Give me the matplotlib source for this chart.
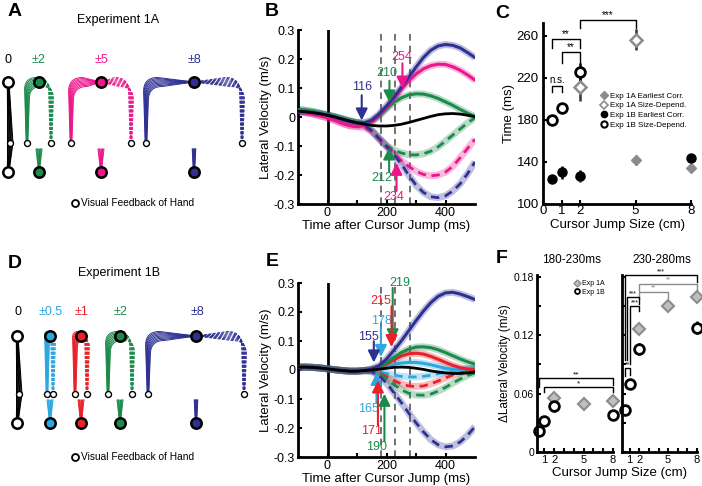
import numpy as np
import matplotlib.pyplot as plt
from matplotlib.lines import Line2D

plt.rcParams['font.family'] = ['Liberation Sans', 'DejaVu Sans']
plt.rcParams['axes.unicode_minus'] = False

# ---- data ----
# lateral velocity traces, sampled every 25 ms from -100 to 500 ms
t_ms = [-100, -75, -50, -25, 0, 25, 50, 75, 100, 125, 150, 175, 200,
        225, 250, 275, 300, 325, 350, 375, 400, 425, 450, 475, 500]

# Experiment 1A (panel B)
b_black = [0.020, 0.018, 0.015, 0.011, 0.006, 0.000, -0.007, -0.014, -0.020, -0.025, -0.029, -0.031, -0.031,
           -0.029, -0.025, -0.019, -0.012, -0.005, 0.002, 0.008, 0.011, 0.012, 0.010, 0.006, 0.001]
b_green_pos = [0.026, 0.023, 0.019, 0.013, 0.007, 0.001, -0.006, -0.013, -0.019, -0.021, -0.016, 0.004, 0.028,
               0.050, 0.066, 0.076, 0.080, 0.079, 0.073, 0.064, 0.052, 0.040, 0.026, 0.013, 0.002]
b_green_neg = [0.026, 0.023, 0.019, 0.013, 0.007, 0.001, -0.006, -0.013, -0.019, -0.026, -0.045, -0.073, -0.098,
               -0.114, -0.124, -0.130, -0.131, -0.127, -0.118, -0.103, -0.083, -0.062, -0.041, -0.020, -0.003]
b_pink_pos = [0.018, 0.015, 0.010, 0.004, -0.003, -0.012, -0.022, -0.030, -0.033, -0.029, -0.016, 0.006, 0.032,
              0.062, 0.095, 0.124, 0.148, 0.166, 0.177, 0.182, 0.181, 0.173, 0.161, 0.145, 0.127]
b_pink_neg = [0.018, 0.015, 0.010, 0.004, -0.003, -0.012, -0.022, -0.030, -0.033, -0.036, -0.050, -0.075, -0.100,
              -0.125, -0.150, -0.170, -0.187, -0.198, -0.203, -0.200, -0.190, -0.170, -0.140, -0.108, -0.077]
b_blue_pos = [0.020, 0.018, 0.015, 0.011, 0.006, 0.000, -0.008, -0.015, -0.020, -0.020, -0.011, 0.010, 0.038,
              0.068, 0.102, 0.137, 0.172, 0.205, 0.230, 0.245, 0.250, 0.247, 0.238, 0.222, 0.205]
b_blue_neg = [0.020, 0.018, 0.015, 0.011, 0.006, 0.000, -0.008, -0.015, -0.020, -0.028, -0.048, -0.075, -0.102,
              -0.130, -0.162, -0.200, -0.235, -0.260, -0.275, -0.278, -0.272, -0.255, -0.230, -0.195, -0.155]

# Experiment 1B (panel E)
e_pre = [0.010, 0.010, 0.009, 0.007, 0.004, 0.001, -0.002, -0.004, -0.004, -0.002]
e_black = e_pre + [0.000, 0.003, 0.006, 0.009, 0.010, 0.009, 0.006, 0.002, -0.003, -0.007, -0.010, -0.012, -0.012, -0.010, -0.007]
e_cyan_pos = e_pre + [0.001, 0.005, 0.012, 0.019, 0.024, 0.026, 0.026, 0.023, 0.018, 0.012, 0.006, 0.002, 0.001, 0.003, 0.008]
e_cyan_neg = e_pre + [-0.002, -0.007, -0.012, -0.018, -0.022, -0.024, -0.024, -0.022, -0.018, -0.013, -0.008, -0.003, 0.001, 0.004, 0.006]
e_red_pos = e_pre + [0.002, 0.008, 0.020, 0.035, 0.048, 0.056, 0.058, 0.055, 0.047, 0.037, 0.026, 0.016, 0.008, 0.003, 0.000]
e_red_neg = e_pre + [-0.003, -0.010, -0.022, -0.036, -0.048, -0.055, -0.057, -0.055, -0.048, -0.038, -0.027, -0.017, -0.009, -0.003, 0.000]
e_green_pos = e_pre + [0.002, 0.010, 0.025, 0.043, 0.060, 0.072, 0.079, 0.080, 0.077, 0.070, 0.060, 0.049, 0.038, 0.028, 0.020]
e_green_neg = e_pre + [-0.004, -0.014, -0.030, -0.050, -0.068, -0.080, -0.086, -0.087, -0.083, -0.073, -0.060, -0.045, -0.031, -0.019, -0.010]
e_blue_pos = e_pre + [0.004, 0.015, 0.038, 0.068, 0.100, 0.135, 0.170, 0.203, 0.232, 0.254, 0.266, 0.268, 0.262, 0.253, 0.243]
e_blue_neg = e_pre + [-0.005, -0.020, -0.045, -0.078, -0.112, -0.148, -0.182, -0.213, -0.240, -0.258, -0.265, -0.262, -0.248, -0.225, -0.195]

# panel C: correction times (ms)
c_1a_early_x = [2, 5, 8]
c_1a_early_y = [126, 142, 134]
c_1a_early_e = [5, 5, 4]
c_1a_size_x = [2, 5]
c_1a_size_y = [211, 256]
c_1a_size_e = [13, 10]
c_1b_early_x = [0.5, 1, 2, 8]
c_1b_early_y = [124, 130, 127, 144]
c_1b_early_e = [3, 6, 5, 3]
c_1b_size_x = [0.5, 1, 2]
c_1b_size_y = [180, 191, 225]
c_1b_size_e = [4, 5, 9]

# panel F: change in lateral velocity (m/s)
f_1a_x = [2, 5, 8]
f_1b_x = [0.5, 1, 2, 8]
f_early_1a = [0.056, 0.049, 0.052]
f_early_1a_e = [0.004, 0.004, 0.004]
f_early_1b = [0.022, 0.032, 0.047, 0.038]
f_early_1b_e = [0.003, 0.003, 0.006, 0.004]
f_late_1a = [0.126, 0.150, 0.159]
f_late_1a_e = [0.004, 0.004, 0.003]
f_late_1b = [0.0435, 0.070, 0.106, 0.128]
f_late_1b_e = [0.003, 0.004, 0.006, 0.007]

# trajectory panels
a_jumps = [0, 2, 5, 8]
a_labels = ['0', '±2', '±5', '±8']
d_jumps = [0, 0.5, 1, 2, 8]
d_labels = ['0', '±0.5', '±1', '±2', '±8']

GREEN = '#1b8a4b'
PINK = '#ec168c'
BLUE = '#2e3192'
RED = '#e8212a'
CYAN = '#2aa8df'
GRAY = '0.55'

W, H = 702, 486
fig = plt.figure(figsize=(W / 100, H / 100), dpi=100)


def fx(px):
    return px / W


def fy(py):
    return 1 - py / H


# ---- panels A and D: hand/cursor paths, drawn in pixel units ----
ax0 = fig.add_axes([0, 0, 1, 1])
ax0.set_xlim(0, W)
ax0.set_ylim(H, 0)
ax0.axis('off')

# fixed fan of trial offsets for the bundles of paths
spread = [-1.0, -0.75, -0.5, -0.25, 0.0, 0.25, 0.5, 0.75, 1.0]


def quad(p0, p1, p2, n=16):
    s = np.linspace(0, 1, n)[:, None]
    return (1 - s) ** 2 * p0 + 2 * (1 - s) * s * p1 + s ** 2 * p2


def draw_condition(ax, cx, jump, color, ytop, yjump, ybot, scale=6.0):
    if jump == 0:
        for k in spread:
            ax.plot([cx + k * 1.0, cx + k * 3.0 + 2, cx + k * 1.0], [ybot, yjump, ytop], color=color, lw=0.7)
        ax.plot(cx + 2, yjump, 'o', ms=4.3, mfc='white', mec='k', mew=1, zorder=5)
        face = 'white'
    else:
        d = jump * scale
        fan = 2.0 if jump < 8 else 1.2
        for k in spread:
            ax.plot([cx + k * 0.8, cx + k * fan * 1.5], [ybot - 4, yjump + 6], color=color, lw=0.7)
        for sgn, ls in [(-1, '-'), (1, (0, (3, 1.5)))]:
            x0 = cx + sgn * d
            r = min(14, d)
            for k in spread:
                xs = x0 + k * 2.4
                yh = ytop + k * 4.5
                corner = quad(np.array([xs, yh + r]), np.array([xs, yh]), np.array([xs - sgn * r, yh]))
                px = np.r_[x0 + k * 0.8, corner[:, 0], cx]
                py = np.r_[yjump, corner[:, 1], ytop]
                ax.plot(px, py, color=color, lw=0.7, ls=ls)
            ax.plot(x0, yjump, 'o', ms=4.3, mfc='white', mec='k', mew=1, zorder=5)
        face = color
    ax.plot([cx, cx], [ytop, ybot], ls='none', marker='o', ms=7.5, mfc=face, mec='k', mew=1.8, zorder=6)


a_centers = [8, 39, 101, 194]
a_colors = ['k', GREEN, PINK, BLUE]
for cx, j, lab, col in zip(a_centers, a_jumps, a_labels, a_colors):
    draw_condition(ax0, cx, j, col, 82, 143, 172)
    ax0.text(cx, 60, lab, color=col, ha='center', va='center', fontsize=9)

d_centers = [17, 50, 81, 120, 196]
d_colors = ['k', CYAN, RED, GREEN, BLUE]
for cx, j, lab, col in zip(d_centers, d_jumps, d_labels, d_colors):
    draw_condition(ax0, cx, j, col, 336, 394, 423)
    ax0.text(cx + 1, 312, lab, color=col, ha='center', va='center', fontsize=9)

for yy in [203, 457]:
    ax0.plot(75, yy, 'o', ms=5, mfc='white', mec='k', mew=1.3)
    ax0.text(81, yy, 'Visual Feedback of Hand', fontsize=7.3, va='center')

fig.text(fx(118), fy(20), 'Experiment 1A', fontsize=9, ha='center', va='center')
fig.text(fx(119), fy(273), 'Experiment 1B', fontsize=9, ha='center', va='center')


# ---- panels B and E: velocity traces ----
def vel_axes(top):
    ax = fig.add_axes([fx(298), fy(top + 174), 177 / W, 174 / H])
    ax.set_xlim(-100, 500)
    ax.set_ylim(-0.3, 0.3)
    for s in ['top', 'right']:
        ax.spines[s].set_visible(False)
    for s in ['left', 'bottom']:
        ax.spines[s].set_linewidth(2)
    ax.set_xticks([0, 200, 400])
    ax.set_xticks([100, 300], minor=True)
    ax.set_yticks([-0.3, -0.2, -0.1, 0, 0.1, 0.2, 0.3])
    ax.set_yticklabels(['-0.3', '-0.2', '-0.1', '0', '0.1', '0.2', '0.3'])
    ax.tick_params(direction='in', length=3, width=1.5, labelsize=9, pad=2)
    ax.tick_params(which='minor', direction='in', length=3, width=1.5)
    ax.axvline(0, color='k', lw=2)
    for tt in [180, 230, 280]:
        ax.axvline(tt, color='0.35', lw=1.2, ls=(0, (4, 3)), zorder=1)
    ax.set_xlabel('Time after Cursor Jump (ms)', fontsize=9.5, labelpad=1)
    ax.set_ylabel('Lateral Velocity (m/s)', fontsize=9.5, labelpad=1)
    return ax


def draw_vel(ax, y, color, dashed):
    ax.plot(t_ms, y, color=color, lw=5, alpha=0.3, solid_capstyle='butt', zorder=2)
    if dashed:
        ax.plot(t_ms, y, color=color, lw=2, ls=(0, (3, 2)), zorder=3)
    else:
        ax.plot(t_ms, y, color=color, lw=2.2, zorder=3)


def arrow(ax, x, y0, y1, color):
    ax.annotate('', xy=(x, y1), xytext=(x, y0),
                arrowprops=dict(arrowstyle='-|>,head_width=0.35,head_length=0.7', color=color, lw=1.5,
                                shrinkA=0, shrinkB=0), zorder=6)


axB = vel_axes(30)
for y, col in [(b_green_neg, GREEN), (b_pink_neg, PINK), (b_blue_neg, BLUE)]:
    draw_vel(axB, y, col, True)
for y, col in [(b_green_pos, GREEN), (b_pink_pos, PINK), (b_blue_pos, BLUE)]:
    draw_vel(axB, y, col, False)
axB.plot(t_ms, b_black, color='k', lw=2, zorder=4)

arrow(axB, 116, 0.075, -0.012, BLUE)
axB.text(116, 0.102, '116', color=BLUE, fontsize=9, ha='center', va='center')
arrow(axB, 210, 0.125, 0.05, GREEN)
axB.text(200, 0.153, '210', color=GREEN, fontsize=9, ha='center', va='center')
arrow(axB, 254, 0.185, 0.098, PINK)
axB.text(251, 0.208, '254', color=PINK, fontsize=9, ha='center', va='center')
arrow(axB, 209, -0.19, -0.105, GREEN)
axB.text(183, -0.211, '212', color=GREEN, fontsize=9, ha='center', va='center')
arrow(axB, 234, -0.255, -0.158, PINK)
axB.text(226, -0.277, '234', color=PINK, fontsize=9, ha='center', va='center')

axE = vel_axes(283)
for y, col in [(e_cyan_neg, CYAN), (e_red_neg, RED), (e_green_neg, GREEN), (e_blue_neg, BLUE)]:
    draw_vel(axE, y, col, True)
for y, col in [(e_cyan_pos, CYAN), (e_red_pos, RED), (e_green_pos, GREEN), (e_blue_pos, BLUE)]:
    draw_vel(axE, y, col, False)
axE.plot(t_ms, e_black, color='k', lw=2, zorder=4)

arrow(axE, 221, 0.283, 0.099, GREEN)
axE.text(246, 0.300, '219', color=GREEN, fontsize=9, ha='center', va='center')
arrow(axE, 217, 0.22, 0.079, RED)
axE.text(179, 0.237, '215', color=RED, fontsize=9, ha='center', va='center')
arrow(axE, 181, 0.148, 0.045, CYAN)
axE.text(183, 0.168, '178', color=CYAN, fontsize=9, ha='center', va='center')
arrow(axE, 157, 0.099, 0.026, BLUE)
axE.text(139, 0.114, '155', color=BLUE, fontsize=9, ha='center', va='center')
arrow(axE, 166, -0.114, -0.01, CYAN)
axE.text(139, -0.134, '165', color=CYAN, fontsize=9, ha='center', va='center')
arrow(axE, 171, -0.19, -0.036, RED)
axE.text(149, -0.21, '171', color=RED, fontsize=9, ha='center', va='center')
arrow(axE, 193, -0.246, -0.082, GREEN)
axE.text(166, -0.265, '190', color=GREEN, fontsize=9, ha='center', va='center')


def bracket(ax, x1, x2, y, yl1, yl2, label, color, fs, dy):
    ax.plot([x1, x1, x2, x2], [yl1, y, y, yl2], color=color, lw=1, clip_on=False)
    ax.text((x1 + x2) / 2, y + dy, label, ha='center', va='bottom', fontsize=fs, color=color)


def style_axes(ax):
    for s in ['top', 'right']:
        ax.spines[s].set_visible(False)
    for s in ['left', 'bottom']:
        ax.spines[s].set_linewidth(2)


# ---- panel C ----
axC = fig.add_axes([fx(543), fy(204), 148 / W, 181 / H])
style_axes(axC)
axC.set_xlim(0, 8)
axC.set_ylim(100, 272)
axC.set_xticks([0, 1, 2, 5, 8])
axC.set_yticks([100, 140, 180, 220, 260])
axC.tick_params(direction='in', length=3, width=1.5, labelsize=9.5, pad=1)
axC.tick_params(axis='y', pad=3)
axC.errorbar(c_1a_early_x, c_1a_early_y, yerr=c_1a_early_e, fmt='D', ms=5.5, color=GRAY, mec=GRAY,
             ecolor='0.35', elinewidth=1.8, capsize=0, clip_on=False)
axC.errorbar(c_1a_size_x, c_1a_size_y, yerr=c_1a_size_e, fmt='D', ms=6.5, mfc='white', mec=GRAY, mew=1.8,
             ecolor='0.2', elinewidth=1.8, capsize=0, clip_on=False)
axC.errorbar(c_1b_early_x, c_1b_early_y, yerr=c_1b_early_e, fmt='o', ms=6.5, color='k',
             ecolor='k', elinewidth=1.8, capsize=0, clip_on=False)
axC.errorbar(c_1b_size_x, c_1b_size_y, yerr=c_1b_size_e, fmt='o', ms=7, mfc='white', mec='k', mew=2,
             ecolor='k', elinewidth=1.8, capsize=0, clip_on=False)
bracket(axC, 0.5, 1, 212, 206, 206, 'n.s.', 'k', 7, 1)
bracket(axC, 1, 2, 244.5, 234, 234, '**', 'k', 7, 0)
bracket(axC, 0.5, 2, 257, 248, 248, '**', 'k', 7, 0)
bracket(axC, 2, 5, 275, 267, 267, '***', 'k', 7, 0)
axC.set_xlabel('Cursor Jump Size (cm)', fontsize=9.5, labelpad=1)
axC.set_ylabel('Time (ms)', fontsize=9.5, labelpad=1)
handles = [Line2D([], [], ls='none', marker='D', ms=4, color=GRAY),
           Line2D([], [], ls='none', marker='D', ms=4, mfc='white', mec=GRAY, mew=1.2),
           Line2D([], [], ls='none', marker='o', ms=4.5, color='k'),
           Line2D([], [], ls='none', marker='o', ms=4.5, mfc='white', mec='k', mew=1.5)]
axC.legend(handles, ['Exp 1A Earliest Corr.', 'Exp 1A Size-Depend.', 'Exp 1B Earliest Corr.',
                     'Exp 1B Size-Depend.'], loc='upper left', bbox_to_anchor=(0.36, 0.64), frameon=False,
           fontsize=5.8, handlelength=0.8, handletextpad=0.4, labelspacing=0.25, borderpad=0)

# ---- panel F ----
axF1 = fig.add_axes([fx(537), fy(452), 76 / W, 177 / H])
axF2 = fig.add_axes([fx(622), fy(452), 75 / W, 177 / H])
for ax, xl in [(axF1, (0.25, 8)), (axF2, (0.2, 8))]:
    style_axes(ax)
    ax.set_xlim(*xl)
    ax.set_ylim(0, 0.182)
    ax.set_xticks([1, 2, 5, 8])
    ax.set_xticks([3, 4, 6, 7], minor=True)
    ax.set_yticks([0, 0.06, 0.12, 0.18])
    ax.set_yticks([0.03, 0.09, 0.15], minor=True)
    ax.tick_params(which='both', direction='in', length=3, width=1.5, labelsize=8, pad=2)
axF1.set_yticklabels(['0', '0.06', '0.12', '0.18'], fontsize=7.5)
axF2.set_yticklabels([])

for ax, y1a, e1a, y1b, e1b in [(axF1, f_early_1a, f_early_1a_e, f_early_1b, f_early_1b_e),
                               (axF2, f_late_1a, f_late_1a_e, f_late_1b, f_late_1b_e)]:
    ax.errorbar(f_1a_x, y1a, yerr=e1a, fmt='D', ms=6, mfc='0.75', mec=GRAY, mew=1.5,
                ecolor='0.25', elinewidth=1.8, capsize=0, clip_on=False)
    ax.errorbar(f_1b_x, y1b, yerr=e1b, fmt='o', ms=7, mfc='white', mec='k', mew=2,
                ecolor='k', elinewidth=1.8, capsize=0, clip_on=False)

bracket(axF1, 0.5, 8, 0.076, 0.067, 0.069, '**', 'k', 6, 0)
bracket(axF1, 1, 8, 0.067, 0.062, 0.062, '*', 'k', 6, -0.001)
bracket(axF2, 0.5, 8, 0.182, 0.095, 0.175, '***', 'k', 5, 0)
bracket(axF2, 2, 8, 0.173, 0.166, 0.167, '**', GRAY, 5, 0)
bracket(axF2, 2, 5, 0.165, 0.158, 0.158, '**', GRAY, 5, 0)
bracket(axF2, 0.75, 2, 0.159, 0.095, 0.152, '***', 'k', 5, 0)
bracket(axF2, 1.0, 2, 0.150, 0.090, 0.145, '***', 'k', 5, 0)
bracket(axF2, 0.5, 1, 0.086, 0.078, 0.079, '**', 'k', 5, 0)

axF1.set_ylabel('ΔLateral Velocity (m/s)', fontsize=8.5, labelpad=2)
axF1.legend([Line2D([], [], ls='none', marker='D', ms=3.5, mfc='0.75', mec=GRAY, mew=1),
             Line2D([], [], ls='none', marker='o', ms=3.5, mfc='white', mec='k', mew=1.3)],
            ['Exp 1A', 'Exp 1B'], loc='upper left', bbox_to_anchor=(0.45, 0.99), frameon=False,
            fontsize=5, handlelength=0.8, handletextpad=0.3, labelspacing=0.2, borderpad=0)
fig.text(fx(572), fy(260), '180-230ms', fontsize=8.5, ha='center', va='center')
fig.text(fx(662), fy(260), '230-280ms', fontsize=8.5, ha='center', va='center')
fig.text(fx(620), fy(473), 'Cursor Jump Size (cm)', fontsize=9.5, ha='center', va='center')

# panel letters
for lab, px, py in [('A', 15, 12), ('B', 272, 12), ('C', 502, 14),
                    ('D', 15, 263), ('E', 272, 262), ('F', 502, 258)]:
    fig.text(fx(px), fy(py), lab, fontsize=14, fontweight='bold', ha='center', va='center')

fig.savefig('out.png', dpi=100)
print('plot done')
